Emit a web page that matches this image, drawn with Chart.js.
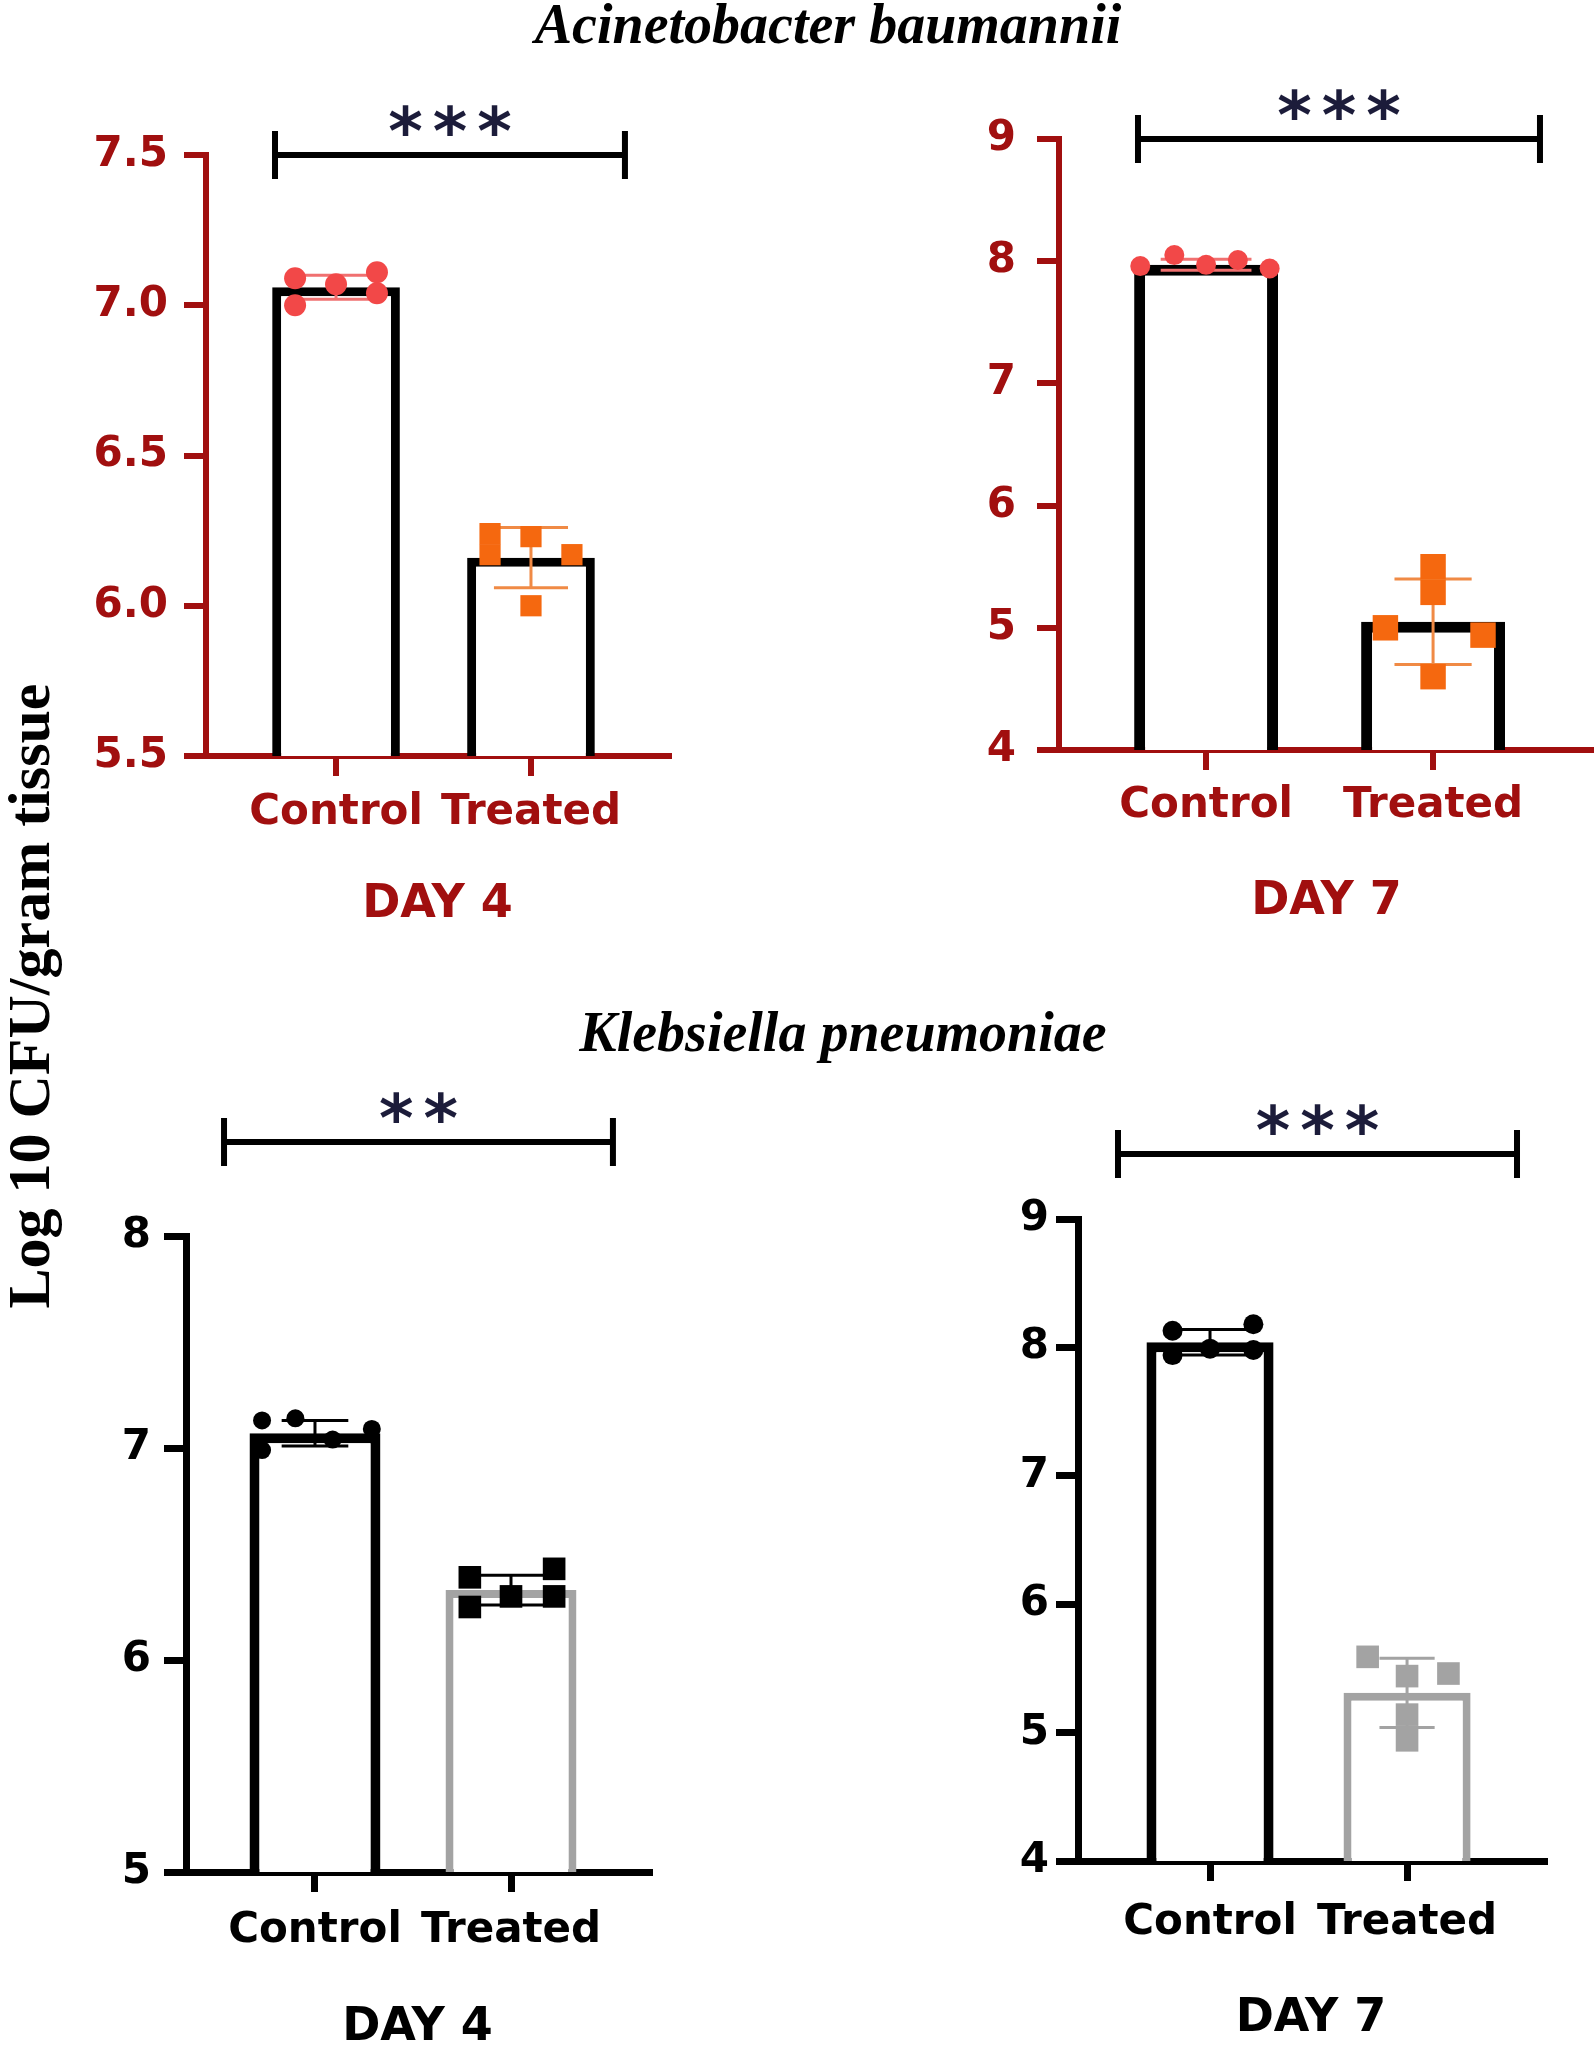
<!DOCTYPE html>
<html>
<head>
<meta charset="utf-8">
<script src="https://cdn.jsdelivr.net/npm/chart.js@4.4.1/dist/chart.umd.min.js"></script>
<style>
  html, body { margin: 0; padding: 0; background: #fff; }
  body { width: 1594px; height: 2056px; position: relative; overflow: hidden; }
  canvas { position: absolute; }
  .species {
    position: absolute; transform: translate(-50%, -50%);
    font-family: "Liberation Serif", serif; font-weight: bold; font-style: italic;
    font-size: 56px; white-space: nowrap; color: #000;
  }
  #ytitle {
    position: absolute; left: 29px; top: 996px;
    transform: translate(-50%, -50%) rotate(-90deg);
    font-family: "Liberation Serif", serif; font-weight: bold;
    font-size: 60px; white-space: nowrap; color: #000;
  }
</style>
</head>
<body>
<div class="species" style="left:828px;top:24px">Acinetobacter baumannii</div>
<div class="species" style="left:843px;top:1032px">Klebsiella pneumoniae</div>
<div id="ytitle">Log 10 CFU/gram tissue</div>
<canvas id="abDay4"></canvas>
<canvas id="abDay7"></canvas>
<canvas id="kpDay4"></canvas>
<canvas id="kpDay7"></canvas>
<script>
// categories
const groups = ['Control', 'Treated'];

// A. baumannii, day 4
const abDay4Means = [7.06, 6.16];
const abDay4Sd = [0.04, 0.10];
const abDay4Control = [7.09, 7.00, 7.07, 7.11, 7.04];
const abDay4Treated = [6.24, 6.17, 6.23, 6.17, 6.00];
const abDay4Ticks = [5.5, 6.0, 6.5, 7.0, 7.5];
const abDay4TickLabels = ['5.5', '6.0', '6.5', '7.0', '7.5'];

// A. baumannii, day 7
const abDay7Means = [7.97, 5.05];
const abDay7Sd = [0.045, 0.35];
const abDay7Control = [7.96, 8.05, 7.97, 8.01, 7.94];
const abDay7Treated = [5.00, 5.50, 5.29, 4.60, 4.94];
const abDay7Ticks = [4, 5, 6, 7, 8, 9];
const abDay7TickLabels = ['4', '5', '6', '7', '8', '9'];

// K. pneumoniae, day 4
const kpDay4Means = [7.07, 6.33];
const kpDay4Sd = [0.06, 0.07];
const kpDay4Control = [7.13, 6.99, 7.14, 7.04, 7.09];
const kpDay4Treated = [6.39, 6.25, 6.30, 6.43, 6.30];
const kpDay4Ticks = [5, 6, 7, 8];
const kpDay4TickLabels = ['5', '6', '7', '8'];

// K. pneumoniae, day 7
const kpDay7Means = [8.04, 5.31];
const kpDay7Sd = [0.10, 0.27];
const kpDay7Control = [8.13, 7.94, 7.99, 8.18, 7.98];
const kpDay7Treated = [5.59, 5.44, 5.14, 4.94, 5.46];
const kpDay7Ticks = [4, 5, 6, 7, 8, 9];
const kpDay7TickLabels = ['4', '5', '6', '7', '8', '9'];

// significance marks
const abDay4Stars = '***';
const abDay7Stars = '***';
const kpDay4Stars = '**';
const kpDay7Stars = '***';

// horizontal scatter of the dots (layout only)
const abDay4Jitter = [[-0.21, -0.21, 0, 0.21, 0.21], [-0.21, -0.21, 0, 0.21, 0]];
const abDay7Jitter = [[-0.29, -0.14, 0, 0.14, 0.28], [-0.21, 0, 0, 0, 0.22]];
const kpDay4Jitter = [[-0.27, -0.27, -0.10, 0.09, 0.29], [-0.21, -0.21, 0, 0.22, 0.22]];
const kpDay7Jitter = [[-0.19, -0.19, 0, 0.22, 0.22], [-0.20, 0, 0, 0, 0.21]];

const darkRed = '#a10f0f';
const dotRed = '#f24848';
const dotOrange = '#f5680f';
const grey = '#a3a3a3';
const starColor = '#1c1c3a';
const sans = 'DejaVu Sans';

function drawPanel(id, p) {
  const canvas = document.getElementById(id);
  const left = p.area.left - p.yWidth;
  const top = p.area.top - p.padTop;
  const width = p.area.right - left + p.padRight;
  const height = p.area.bottom + p.xHeight - top;
  canvas.width = width;
  canvas.height = height;
  canvas.style.left = left + 'px';
  canvas.style.top = top + 'px';
  canvas.style.width = width + 'px';
  canvas.style.height = height + 'px';

  // error bars after the bars, bracket + stars at the end
  const marks = {
    id: 'marks',
    afterDatasetDraw(chart, args) {
      if (args.meta.type !== 'bar') return;
      const ctx = chart.ctx, xs = chart.scales.x, ys = chart.scales.y;
      ctx.save();
      ctx.lineWidth = 3;
      p.means.forEach((m, i) => {
        const hi = ys.getPixelForValue(m + p.sd[i]);
        const lo = ys.getPixelForValue(m - p.sd[i]);
        const xc = xs.getPixelForValue(i);
        const xa = xs.getPixelForValue(i - p.cap[i]);
        const xb = xs.getPixelForValue(i + p.cap[i]);
        ctx.strokeStyle = p.errColors[i];
        ctx.beginPath();
        ctx.moveTo(xc, hi); ctx.lineTo(xc, lo);
        ctx.moveTo(xa, hi); ctx.lineTo(xb, hi);
        ctx.moveTo(xa, lo); ctx.lineTo(xb, lo);
        ctx.stroke();
      });
      ctx.restore();
    },
    afterDraw(chart) {
      const ctx = chart.ctx, xs = chart.scales.x;
      const y = chart.chartArea.top - p.bracketRise;
      const x1 = xs.getPixelForValue(p.bracket[0]);
      const x2 = xs.getPixelForValue(p.bracket[1]);
      ctx.save();
      ctx.strokeStyle = '#000';
      ctx.lineWidth = 6;
      ctx.beginPath();
      ctx.moveTo(x1, y); ctx.lineTo(x2, y);
      ctx.moveTo(x1, y - 24); ctx.lineTo(x1, y + 24);
      ctx.moveTo(x2, y - 24); ctx.lineTo(x2, y + 24);
      ctx.stroke();
      ctx.fillStyle = starColor;
      ctx.font = 'bold 66px "DejaVu Sans"';
      ctx.letterSpacing = '10px';
      ctx.textAlign = 'center';
      ctx.textBaseline = 'alphabetic';
      ctx.fillText(p.stars, (x1 + x2) / 2 + 5, y - 37 + 36);
      ctx.restore();
    }
  };

  new Chart(canvas, {
    type: 'bar',
    data: {
      datasets: [
        {
          type: 'scatter',
          data: p.control.map((v, i) => ({ x: 0 + p.jitter[0][i], y: v })),
          pointStyle: 'circle',
          pointRadius: p.dotR[0],
          backgroundColor: p.dotColors[0],
          borderWidth: 0,
          order: 0
        },
        {
          type: 'scatter',
          data: p.treated.map((v, i) => ({ x: 1 + p.jitter[1][i], y: v })),
          pointStyle: 'rect',
          pointRadius: p.dotR[1],
          backgroundColor: p.dotColors[1],
          borderWidth: 0,
          order: 0
        },
        {
          type: 'bar',
          data: p.means.map((m, i) => ({ x: i, y: m })),
          backgroundColor: '#ffffff',
          borderColor: p.barColors,
          borderWidth: p.barBorder,
          borderSkipped: 'start',
          categoryPercentage: 1,
          barPercentage: p.barPct,
          order: 1
        }
      ]
    },
    options: {
      responsive: false,
      animation: false,
      events: [],
      layout: { autoPadding: false, padding: { top: p.padTop, right: p.padRight, left: 0, bottom: 0 } },
      plugins: { legend: { display: false }, tooltip: { enabled: false } },
      scales: {
        x: {
          type: 'linear',
          bounds: 'data',
          offset: false,
          min: p.xRange[0],
          max: p.xRange[1],
          afterBuildTicks: s => { s.ticks = groups.map((g, i) => ({ value: i })); },
          afterFit: s => { s.height = p.xHeight; },
          ticks: {
            callback: (v, i) => groups[i],
            autoSkip: false, maxRotation: 0,
            color: p.axisColor,
            font: { family: sans, weight: 'bold', size: 42 },
            padding: p.xPad
          },
          grid: { offset: false, drawOnChartArea: false, drawTicks: true, tickLength: 20, color: p.axisColor, lineWidth: p.axisW },
          border: { display: true, color: p.axisColor, width: p.axisW },
          title: {
            display: true, text: p.day, color: p.axisColor,
            font: { family: sans, weight: 'bold', size: 46 },
            padding: 0
          }
        },
        y: {
          min: p.ticks[0],
          max: p.ticks[p.ticks.length - 1],
          afterBuildTicks: s => { s.ticks = p.ticks.map(v => ({ value: v })); },
          afterFit: s => { s.width = p.yWidth; },
          ticks: {
            callback: (v, i) => p.tickLabels[i],
            color: p.axisColor,
            font: { family: sans, weight: 'bold', size: 42 },
            padding: p.yPad
          },
          grid: { drawOnChartArea: false, drawTicks: true, tickLength: 22, color: p.axisColor, lineWidth: p.axisW },
          border: { display: true, color: p.axisColor, width: p.axisW }
        }
      }
    },
    plugins: [marks]
  });
}

drawPanel('abDay4', {
  means: abDay4Means, sd: abDay4Sd, control: abDay4Control, treated: abDay4Treated,
  ticks: abDay4Ticks, tickLabels: abDay4TickLabels, stars: abDay4Stars, jitter: abDay4Jitter,
  day: 'DAY 4',
  area: { left: 206, right: 669, top: 155, bottom: 756 },
  yWidth: 126, padTop: 95, padRight: 10, xHeight: 177, xRange: [-0.667, 1.708],
  yPad: 16, xPad: 12, axisColor: darkRed, axisW: 6,
  barColors: ['#000', '#000'], barBorder: 9, barPct: 0.655,
  dotColors: [dotRed, dotOrange], dotR: [11, 15], errColors: ['#f07070', '#f08a45'], cap: [0.21, 0.19],
  bracket: [-0.313, 1.482], bracketRise: 0
});

drawPanel('abDay7', {
  means: abDay7Means, sd: abDay7Sd, control: abDay7Control, treated: abDay7Treated,
  ticks: abDay7Ticks, tickLabels: abDay7TickLabels, stars: abDay7Stars, jitter: abDay7Jitter,
  day: 'DAY 7',
  area: { left: 1059, right: 1594, top: 139, bottom: 750 },
  yWidth: 90, padTop: 89, padRight: 0, xHeight: 180, xRange: [-0.648, 1.709],
  yPad: 21, xPad: 11, axisColor: darkRed, axisW: 6,
  barColors: ['#000', '#000'], barBorder: 11, barPct: 0.634,
  dotColors: [dotRed, dotOrange], dotR: [10, 18], errColors: ['#f07070', '#f08a45'], cap: [0.2, 0.17],
  bracket: [-0.30, 1.471], bracketRise: 0
});

drawPanel('kpDay4', {
  means: kpDay4Means, sd: kpDay4Sd, control: kpDay4Control, treated: kpDay4Treated,
  ticks: kpDay4Ticks, tickLabels: kpDay4TickLabels, stars: kpDay4Stars, jitter: kpDay4Jitter,
  day: 'DAY 4',
  area: { left: 186, right: 649, top: 1236, bottom: 1872 },
  yWidth: 126, padTop: 176, padRight: 10, xHeight: 184, xRange: [-0.658, 1.704],
  yPad: 13, xPad: 14, axisColor: '#000', axisW: 7,
  barColors: ['#000', grey], barBorder: [10, 8], barPct: 0.668,
  dotColors: ['#000', '#000'], dotR: [9, 16], errColors: ['#000', '#000'], cap: [0.17, 0.21],
  bracket: [-0.464, 1.52], bracketRise: 94
});

drawPanel('kpDay7', {
  means: kpDay7Means, sd: kpDay7Sd, control: kpDay7Control, treated: kpDay7Treated,
  ticks: kpDay7Ticks, tickLabels: kpDay7TickLabels, stars: kpDay7Stars, jitter: kpDay7Jitter,
  day: 'DAY 7',
  area: { left: 1078, right: 1544, top: 1219, bottom: 1861 },
  yWidth: 110, padTop: 149, padRight: 20, xHeight: 186, xRange: [-0.67, 1.695],
  yPad: 7, xPad: 17, axisColor: '#000', axisW: 7,
  barColors: ['#000', grey], barBorder: [10, 8], barPct: 0.645,
  dotColors: ['#000', grey], dotR: [10, 16], errColors: ['#000', grey], cap: [0.2, 0.14],
  bracket: [-0.467, 1.558], bracketRise: 65
});
</script>
</body>
</html>
